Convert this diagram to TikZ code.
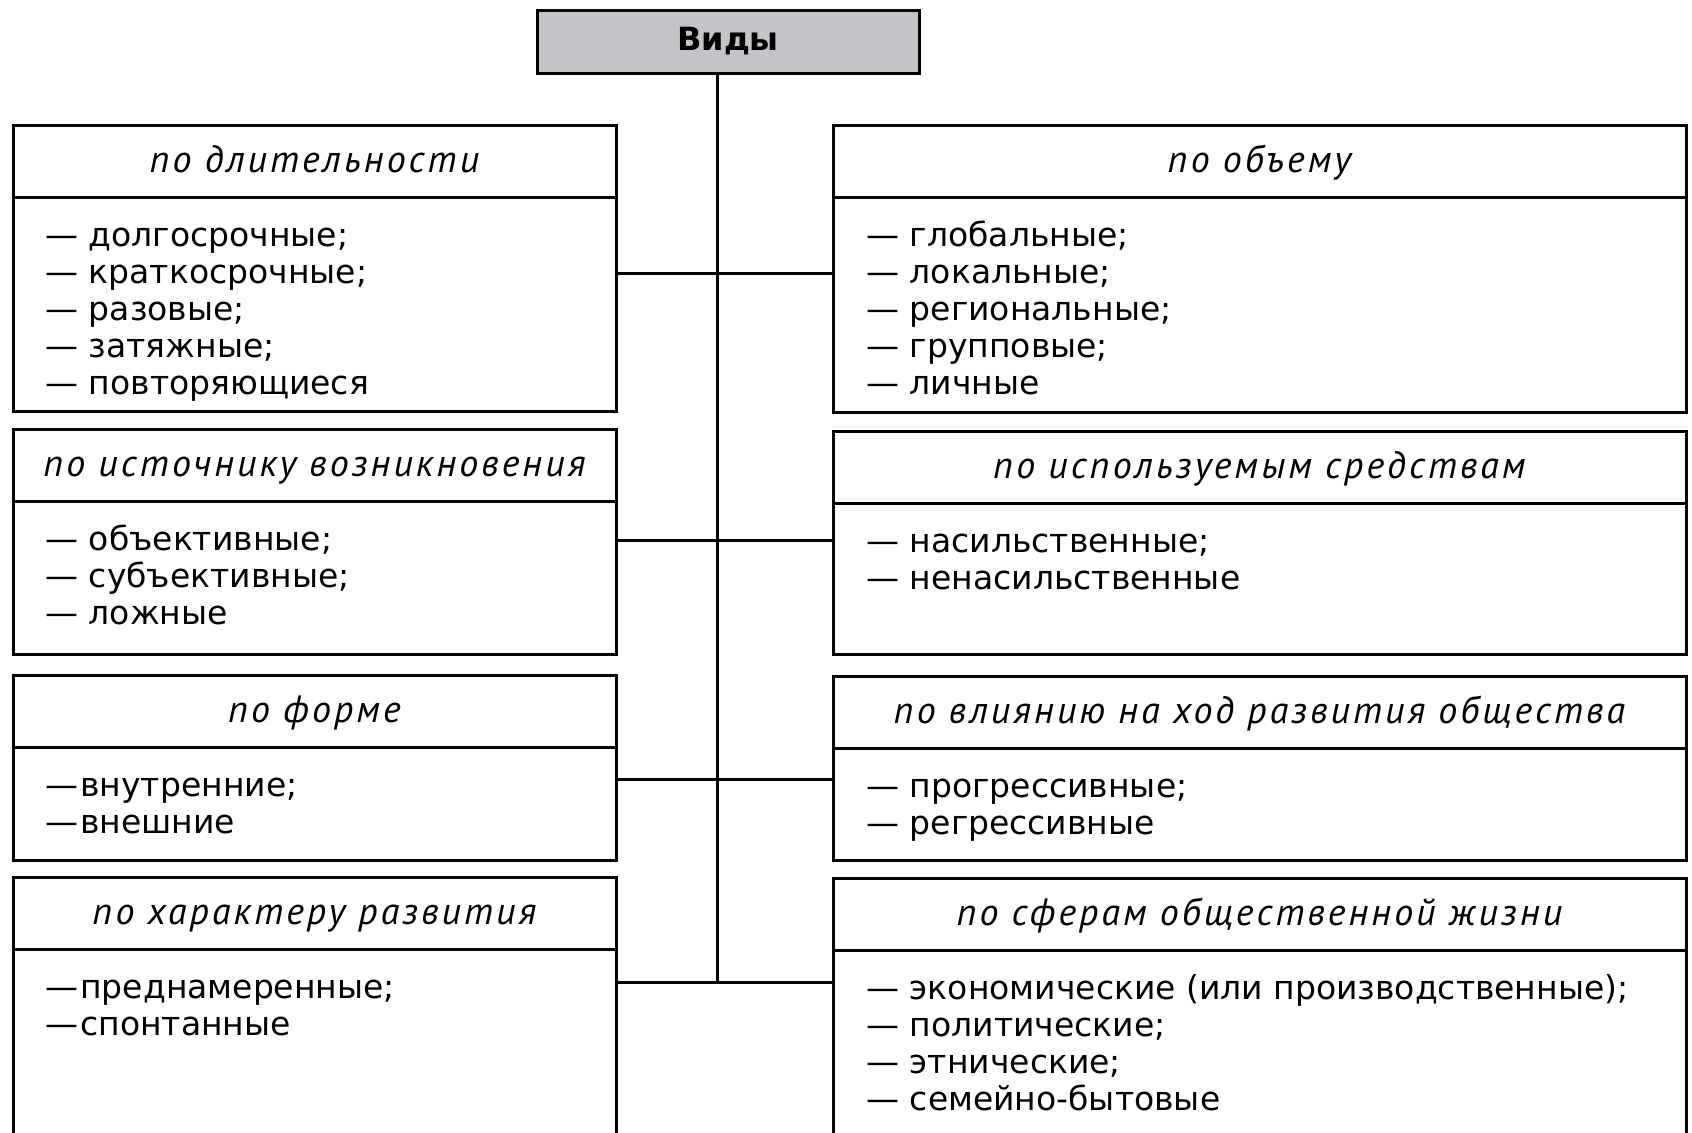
\documentclass[tikz,border=0pt]{standalone}
\usepackage{fontspec}
\setmainfont{DejaVu Sans}
\newfontfamily\headfont{PT Sans}[LetterSpace=8]
\usetikzlibrary{positioning}

\definecolor{topgray}{RGB}{196,196,200}
% keeps the first line of every list at the same height
\newcommand{\firstrow}{\rule{0pt}{13pt}}

\tikzset{
  frame/.style={draw, line width=1.5pt, inner sep=0pt, outer sep=0pt},
  lhead/.style={frame, minimum width=301.5pt, minimum height=36pt,
    text height=14pt, text depth=3pt,
    font={\headfont\itshape\fontsize{19}{22}\selectfont}},
  rhead/.style={lhead, minimum width=426.5pt},
  lbody/.style={frame, minimum width=301.5pt, anchor=north},
  rbody/.style={lbody, minimum width=426.5pt},
  items/.style={anchor=north west, align=left, inner sep=0pt,
    font={\fontsize{16.5}{18.5}\selectfont}},
  link/.style={line width=1.5pt}
}

\begin{document}
\begin{tikzpicture}[x=0.5pt,y=-0.5pt]
  \useasboundingbox (0,0) rectangle (1692,1132);
  \clip (0,0) rectangle (1692,1132);

  % Top box
  \node[frame, fill=topgray, minimum width=191pt, minimum height=31.5pt,
    font=\bfseries\fontsize{16}{19}\selectfont] (vid) at (728,41.5) {Виды};

  % Points where the branches leave the trunk
  \coordinate (t1) at (717,273);
  \coordinate (t2) at (717,540);
  \coordinate (t3) at (717,779);
  \coordinate (t4) at (717,982);

  % Left column
  \node[lhead] (l1h) at (314.5,161) {по длительности};
  \node[lbody, minimum height=107pt] (l1b) at (l1h.south) {};
  \node[items] at ([xshift=16pt,yshift=-11.5pt]l1b.north west)
    {\firstrow— долгосрочные;\\— краткосрочные;\\— разовые;\\— затяжные;\\— повторяющиеся};

  \node[lhead] (l2h) at (314.5,465.5) {по источнику возникновения};
  \node[lbody, minimum height=76.5pt] (l2b) at (l2h.south) {};
  \node[items] at ([xshift=16pt,yshift=-11.5pt]l2b.north west)
    {\firstrow— объективные;\\— субъективные;\\— ложные};

  \node[lhead] (l3h) at (314.5,711) {по форме};
  \node[lbody, minimum height=56.5pt] (l3b) at (l3h.south) {};
  \node[items] at ([xshift=16pt,yshift=-11.5pt]l3b.north west)
    {\firstrow—\kern1pt внутренние;\\—\kern1pt внешние};

  \node[lhead] (l4h) at (314.5,913.5) {по характеру развития};
  \node[lbody, minimum height=100pt] (l4b) at (l4h.south) {};
  \node[items] at ([xshift=16pt,yshift=-11.5pt]l4b.north west)
    {\firstrow—\kern1pt преднамеренные;\\—\kern1pt спонтанные};

  % Right column
  \node[rhead] (r1h) at (1259.5,161) {по объему};
  \node[rbody, minimum height=107.5pt] (r1b) at (r1h.south) {};
  \node[items] at ([xshift=16.5pt,yshift=-11.5pt]r1b.north west)
    {\firstrow— глобальные;\\— локальные;\\— региональные;\\— групповые;\\— личные};

  \node[rhead] (r2h) at (1259.5,467) {по используемым средствам};
  \node[rbody, minimum height=75.5pt] (r2b) at (r2h.south) {};
  \node[items] at ([xshift=16.5pt,yshift=-11.5pt]r2b.north west)
    {\firstrow— насильственные;\\— ненасильственные};

  \node[rhead] (r3h) at (1259.5,712) {по влиянию на ход развития общества};
  \node[rbody, minimum height=56pt] (r3b) at (r3h.south) {};
  \node[items] at ([xshift=16.5pt,yshift=-11.5pt]r3b.north west)
    {\firstrow— прогрессивные;\\— регрессивные};

  \node[rhead] (r4h) at (1259.5,914.5) {по сферам общественной жизни};
  \node[rbody, minimum height=100pt] (r4b) at (r4h.south) {};
  \node[items] at ([xshift=16.5pt,yshift=-11.5pt]r4b.north west)
    {\firstrow— экономические (или производственные);\\— политические;\\— этнические;\\— семейно-бытовые};

  % Trunk and branches
  \draw[link] (vid.south -| t4) -- (t4);
  \draw[link] (l1b.east |- t1) -- (r1b.west |- t1);
  \draw[link] (l2b.east |- t2) -- (r2b.west |- t2);
  \draw[link] (l3b.east |- t3) -- (r3b.west |- t3);
  \draw[link] (l4b.east |- t4) -- (r4b.west |- t4);
\end{tikzpicture}
\end{document}
